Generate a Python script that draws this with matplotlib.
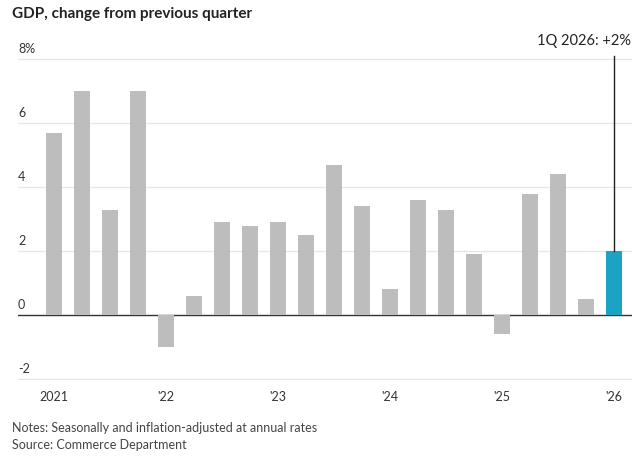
import numpy as np
import matplotlib.pyplot as plt
import matplotlib.transforms as mtransforms

plt.rcParams['font.family'] = ['Lato', 'DejaVu Sans']

# quarterly GDP change, 1Q 2021 .. 1Q 2026
values = [5.7, 7.0, 3.3, 7.0, -1.0, 0.6, 2.9, 2.8, 2.9, 2.5, 4.7, 3.4,
          0.8, 3.6, 3.3, 1.9, -0.6, 3.8, 4.4, 0.5, 2.0]
year_labels = ['2021', "'22", "'23", "'24", "'25", "'26"]
y_ticks = [-2, 0, 2, 4, 6, 8]
y_tick_labels = ['-2', '0', '2', '4', '6', '8%']

fig = plt.figure(figsize=(6.33, 4.67), dpi=100)
ax = fig.add_axes([18/633, 87/467, 614/633, 340/467])

x = np.arange(len(values))
colors = ['#bdbdbd'] * (len(values) - 1) + ['#1aa3c2']
ax.bar(x, values, width=0.58, color=colors, zorder=3)

ax.set_xlim(-1.286, 20.64)
ax.set_ylim(-2.03, 8.6)
for v in y_ticks:
    ax.axhline(v, color='#333333' if v == 0 else '#e6e6e6', lw=1, zorder=2)

trans = mtransforms.blended_transform_factory(ax.transAxes, ax.transData)
for v, lab in zip(y_ticks, y_tick_labels):
    ax.text(0, v + 0.12, lab, transform=trans, ha='left', va='bottom',
            fontsize=9, color='#333333')

ax.set_xticks(x[::4])
ax.set_xticklabels(year_labels, fontsize=9, color='#333333')
ax.tick_params(axis='x', length=0, pad=8)
ax.set_yticks([])
for s in ax.spines.values():
    s.set_visible(False)

# annotation for the latest quarter
ax.plot([x[-1], x[-1]], [values[-1], 8.1], color='#222222', lw=1, zorder=4)
ax.text(x[-1] + 0.6, 8.35, '1Q 2026: +2%', ha='right', va='bottom',
        fontsize=10.5, color='#222222')

fig.text(12/633, 1 - 14/467, 'GDP, change from previous quarter',
         fontsize=11, fontweight='bold', va='center', ha='left', color='#222222')
fig.text(12/633, 1 - 428/467, 'Notes: Seasonally and inflation-adjusted at annual rates',
         fontsize=9, va='center', color='#444444')
fig.text(12/633, 1 - 445/467, 'Source: Commerce Department',
         fontsize=9, va='center', color='#444444')

fig.savefig('out.png', dpi=100)
